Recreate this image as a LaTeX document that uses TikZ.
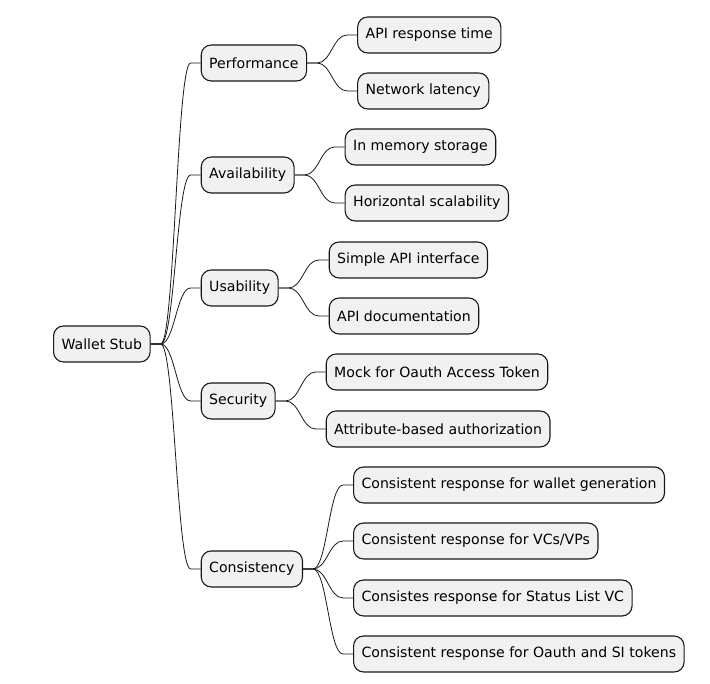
\documentclass[tikz,border=0pt]{standalone}
\usepackage{fontspec}
\setmainfont{DejaVu Sans}
\usetikzlibrary{positioning}
\definecolor{boxfill}{HTML}{F1F1F1}
\definecolor{boxline}{HTML}{181818}

\begin{document}
\begin{tikzpicture}[x=1pt,y=1pt,node distance=50pt,
        topic node/.style={draw=boxline,fill=boxfill,line width=1.1pt,rounded corners=10pt,
            minimum height=36pt,inner xsep=8pt,font=\fontsize{14.1}{16}\selectfont},
        branch/.style={draw=boxline,line width=0.8pt,
            to path={-- ++(10,0) .. controls +(14,0) and +(-14,0) .. ([xshift=-10pt]\tikztotarget.west) -- (\tikztotarget.west)}}]
    \useasboundingbox (0,0) rectangle (710,684);

    \node[topic node,anchor=west] (wallet) at (53,340) {Wallet Stub};

    \node[topic node] (perf)  [right=of wallet,yshift=281pt]  {Performance};
    \node[topic node] (avail) [right=of wallet,yshift=169pt]  {Availability};
    \node[topic node] (usab)  [right=of wallet,yshift=56pt]   {Usability};
    \node[topic node] (secur) [right=of wallet,yshift=-57pt]  {Security};
    \node[topic node] (consi) [right=of wallet,yshift=-225pt] {Consistency};

    \node[topic node] (apitime) [right=of perf,yshift=28pt]   {API response time};
    \node[topic node] (netlat)  [right=of perf,yshift=-28pt]  {Network latency};
    \node[topic node] (memstor) [right=of avail,yshift=28pt]  {In memory storage};
    \node[topic node] (horscal) [right=of avail,yshift=-28pt] {Horizontal scalability};
    \node[topic node] (simpapi) [right=of usab,yshift=28pt]   {Simple API interface};
    \node[topic node] (apidoc)  [right=of usab,yshift=-28pt]  {API documentation};
    \node[topic node] (mockoa)  [right=of secur,yshift=29pt]  {Mock for Oauth Access Token};
    \node[topic node] (attrib)  [right=of secur,yshift=-28pt] {Attribute-based authorization};
    \node[topic node] (walgen)  [right=of consi,yshift=84pt]  {Consistent response for wallet generation};
    \node[topic node] (vcvp)    [right=of consi,yshift=28pt]  {Consistent response for VCs/VPs};
    \node[topic node] (statvc)  [right=of consi,yshift=-29pt] {Consistes response for Status List VC};
    \node[topic node] (oatok)   [right=of consi,yshift=-85pt] {Consistent response for Oauth and SI tokens};

    \path
        (wallet.east) edge [branch] (perf)
        (wallet.east) edge [branch] (avail)
        (wallet.east) edge [branch] (usab)
        (wallet.east) edge [branch] (secur)
        (wallet.east) edge [branch] (consi);
    \path
        (perf.east)  edge [branch] (apitime)
        (perf.east)  edge [branch] (netlat)
        (avail.east) edge [branch] (memstor)
        (avail.east) edge [branch] (horscal)
        (usab.east)  edge [branch] (simpapi)
        (usab.east)  edge [branch] (apidoc)
        (secur.east) edge [branch] (mockoa)
        (secur.east) edge [branch] (attrib)
        (consi.east) edge [branch] (walgen)
        (consi.east) edge [branch] (vcvp)
        (consi.east) edge [branch] (statvc)
        (consi.east) edge [branch] (oatok);
\end{tikzpicture}
\end{document}
